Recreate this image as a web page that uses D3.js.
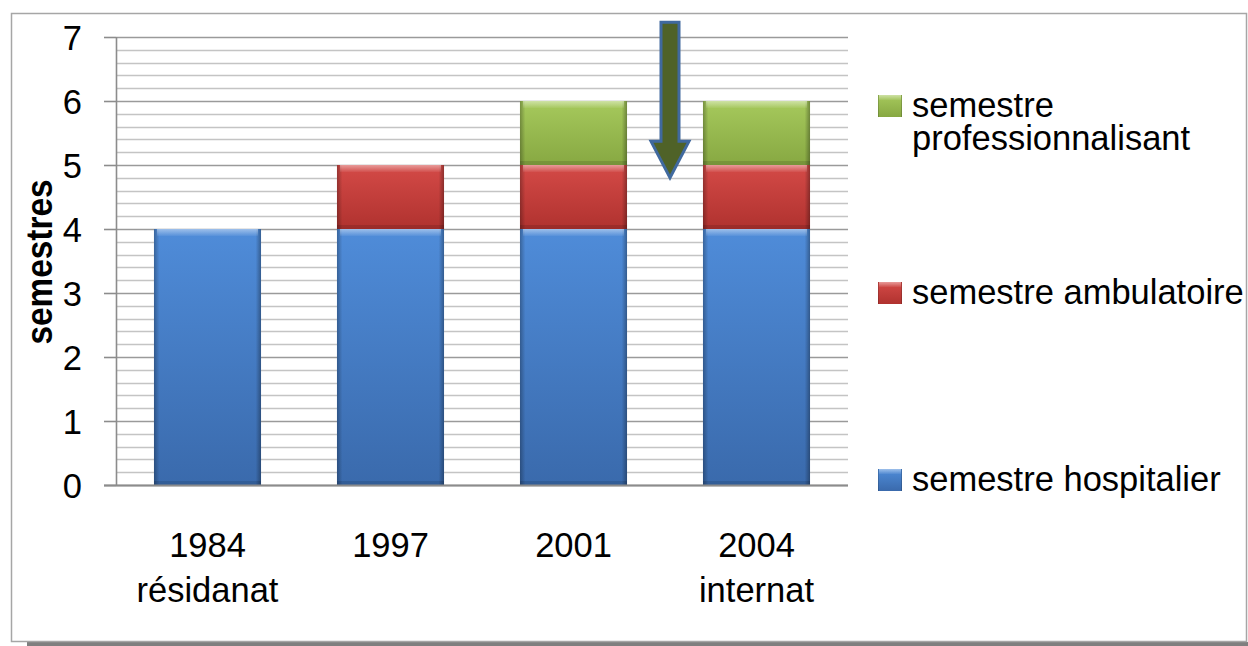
<!DOCTYPE html>
<html>
<head>
<meta charset="utf-8">
<script src="https://cdn.jsdelivr.net/npm/d3@7"></script>
<style>
	body { margin: 0; background: #fff; }
	svg text { font-family: "Liberation Sans", Arial, sans-serif; fill: #000; }
</style>
</head>
<body>
<div id="chart"></div>
<script>
"use strict";

// data
var years = ["1984", "1997", "2001", "2004"];
var subLabels = ["résidanat", "", "", "internat"];
var hospitalier = [4, 4, 4, 4];
var ambulatoire = [0, 1, 1, 1];
var professionnalisant = [0, 0, 1, 1];
var seriesKeys = ["hospitalier", "ambulatoire", "professionnalisant"];
var legendLines = [["semestre", "professionnalisant"], ["semestre ambulatoire"], ["semestre hospitalier"]];
var legendKeys = ["professionnalisant", "ambulatoire", "hospitalier"];
var yTicks = [0, 1, 2, 3, 4, 5, 6, 7];
var yTitle = "semestres";

var rows = years.map(function(y, i) {
	return { year: y, hospitalier: hospitalier[i], ambulatoire: ambulatoire[i], professionnalisant: professionnalisant[i] };
});

//
// Setup Variables
//
var canvasWidth = 1248, canvasHeight = 646;
var margin = { left: 116, top: 37, right: 400, bottom: 161 };
var width = canvasWidth - margin.left - margin.right;
var height = canvasHeight - margin.top - margin.bottom;
var fontSize = 34.5;

var colors = {
	hospitalier: ["#4f8cd9", "#3a6aac"],
	ambulatoire: ["#d44a47", "#b0322f"],
	professionnalisant: ["#a6c95c", "#87a842"]
};

var x = d3.scaleBand().domain(years).range([0, width]).paddingInner(0.415).paddingOuter(0.2075);
var y = d3.scaleLinear().domain([0, 7]).range([height, 0]);

var stacked = d3.stack().keys(seriesKeys)(rows);

//
// Draw Canvas
//
var root = d3.select("#chart")
	.append("svg")
		.attr("width", canvasWidth)
		.attr("height", canvasHeight);

var defs = root.append("defs");
seriesKeys.forEach(function(k) {
	var g = defs.append("linearGradient").attr("id", "g-" + k)
		.attr("x1", 0).attr("y1", 0).attr("x2", 0).attr("y2", 1);
	g.append("stop").attr("offset", "0%").attr("stop-color", colors[k][0]);
	g.append("stop").attr("offset", "100%").attr("stop-color", colors[k][1]);
});
var edge = defs.append("linearGradient").attr("id", "edge");
edge.append("stop").attr("offset", "0%").attr("stop-color", "#000").attr("stop-opacity", 0.28);
edge.append("stop").attr("offset", "5%").attr("stop-color", "#000").attr("stop-opacity", 0);
edge.append("stop").attr("offset", "95%").attr("stop-color", "#000").attr("stop-opacity", 0);
edge.append("stop").attr("offset", "100%").attr("stop-color", "#000").attr("stop-opacity", 0.32);
var shine = defs.append("linearGradient").attr("id", "shine")
	.attr("x1", 0).attr("y1", 0).attr("x2", 0).attr("y2", 1);
shine.append("stop").attr("offset", "0%").attr("stop-color", "#fff").attr("stop-opacity", 0.45);
shine.append("stop").attr("offset", "100%").attr("stop-color", "#fff").attr("stop-opacity", 0.05);

// frame + shadow
root.append("rect")
	.attr("x", 27).attr("y", 642).attr("width", canvasWidth - 27).attr("height", 4)
	.attr("fill", "#7f7f7f");
root.append("rect")
	.attr("x", 11.5).attr("y", 13.5).attr("width", 1235).attr("height", 628)
	.attr("fill", "#fff").attr("stroke", "#a6a6a6").attr("stroke-width", 1.5);

var svg = root.append("g")
	.attr("transform", "translate(" + margin.left + "," + margin.top + ")");

//
// Gridlines
//
var minor = d3.range(0, 7.001, 0.2);
svg.append("g")
	.selectAll("line")
	.data(minor)
	.enter().append("line")
		.attr("x1", 0).attr("x2", width)
		.attr("y1", function(d) { return Math.round(y(d)) + 0.5; })
		.attr("y2", function(d) { return Math.round(y(d)) + 0.5; })
		.attr("stroke", function(d) { return Math.abs(d - Math.round(d)) < 1e-6 ? "#9a9a9a" : "#c4c4c4"; })
		.attr("stroke-width", 1.6);

//
// Draw Y-Axis
//
var yAxis = d3.axisLeft(y).tickValues(yTicks).tickSize(12).tickPadding(22).tickFormat(d3.format("d"));
var ya = svg.append("g").attr("id", "y_axis").call(yAxis);
ya.select(".domain").attr("stroke", "#8c8c8c").attr("stroke-width", 1.6).attr("d", "M0.5," + y(7) + "V" + y(0));
ya.selectAll(".tick line").attr("stroke", "#8c8c8c").attr("stroke-width", 1.6);
ya.selectAll(".tick text").attr("font-size", fontSize).attr("dy", "0.36em");

// y title
root.append("text")
	.attr("transform", "translate(52,262) rotate(-90)")
	.attr("text-anchor", "middle")
	.attr("font-size", 36)
	.attr("font-weight", "bold")
	.attr("textLength", 165)
	.attr("lengthAdjust", "spacingAndGlyphs")
	.text(yTitle);

//
// Draw Bars
//
var layers = svg.selectAll(".layer")
	.data(stacked)
	.enter().append("g")
		.attr("class", "layer");

layers.each(function(s) {
	var g = d3.select(this);
	var segs = s.filter(function(d) { return d[1] - d[0] > 0; });
	var sel = g.selectAll("g.seg").data(segs).enter().append("g").attr("class", "seg");
	sel.append("rect")
		.attr("x", function(d) { return x(d.data.year); })
		.attr("y", function(d) { return y(d[1]); })
		.attr("width", x.bandwidth())
		.attr("height", function(d) { return y(d[0]) - y(d[1]); })
		.attr("fill", "url(#g-" + s.key + ")");
	sel.append("rect")
		.attr("x", function(d) { return x(d.data.year); })
		.attr("y", function(d) { return y(d[1]); })
		.attr("width", x.bandwidth())
		.attr("height", function(d) { return y(d[0]) - y(d[1]); })
		.attr("fill", "url(#edge)");
	sel.append("rect")
		.attr("x", function(d) { return x(d.data.year) + 3; })
		.attr("y", function(d) { return y(d[1]); })
		.attr("width", x.bandwidth() - 6)
		.attr("height", 7)
		.attr("fill", "url(#shine)");
	sel.append("rect")
		.attr("x", function(d) { return x(d.data.year); })
		.attr("y", function(d) { return y(d[0]) - 4; })
		.attr("width", x.bandwidth())
		.attr("height", 4)
		.attr("fill", "#000").attr("fill-opacity", 0.12);
});

// baseline on top of bars
svg.append("line")
	.attr("x1", -12).attr("x2", width)
	.attr("y1", y(0) + 0.5).attr("y2", y(0) + 0.5)
	.attr("stroke", "#8c8c8c").attr("stroke-width", 2);

//
// X labels
//
var xl = svg.selectAll(".xlabel")
	.data(years)
	.enter().append("text")
		.attr("class", "xlabel")
		.attr("text-anchor", "middle")
		.attr("font-size", fontSize)
		.attr("x", function(d) { return x(d) + x.bandwidth() / 2; })
		.attr("y", y(0) + 72);
xl.append("tspan").text(function(d) { return d; });
xl.append("tspan")
	.attr("x", function(d) { return x(d) + x.bandwidth() / 2; })
	.attr("dy", 45)
	.text(function(d, i) { return subLabels[i]; });

//
// Arrow (annotation)
//
var ax = (x("2001") + x.bandwidth() + x("2004")) / 2 + 5;
var aTop = y(7.23), aNeck = y(5.37), aTip = y(4.8);
var arrow = [[ax - 9, aTop], [ax + 9, aTop], [ax + 9, aNeck], [ax + 19, aNeck], [ax, aTip], [ax - 19, aNeck], [ax - 9, aNeck]];
svg.append("path")
	.attr("d", d3.line()(arrow) + "Z")
	.attr("fill", "#4f6228")
	.attr("stroke", "#40699e")
	.attr("stroke-width", 3)
	.attr("stroke-linejoin", "miter");

//
// Legend
//
var legendX = 878, legendY = [117, 304, 491];
var lg = root.selectAll(".legend")
	.data(legendKeys)
	.enter().append("g")
		.attr("class", "legend")
		.attr("transform", function(d, i) { return "translate(" + legendX + "," + legendY[i] + ")"; });
lg.append("rect")
	.attr("x", 0).attr("y", -22).attr("width", 24).attr("height", 22)
	.attr("fill", function(d) { return "url(#g-" + d + ")"; });
lg.append("rect")
	.attr("x", 0).attr("y", -22).attr("width", 24).attr("height", 22)
	.attr("fill", "url(#edge)");
lg.append("rect")
	.attr("x", 1).attr("y", -22).attr("width", 22).attr("height", 5)
	.attr("fill", "url(#shine)");
lg.each(function(d, i) {
	var t = d3.select(this).append("text").attr("font-size", fontSize);
	legendLines[i].forEach(function(line, j) {
		t.append("tspan").attr("x", 34).attr("y", j * 33).text(line);
	});
});
</script>
</body>
</html>
